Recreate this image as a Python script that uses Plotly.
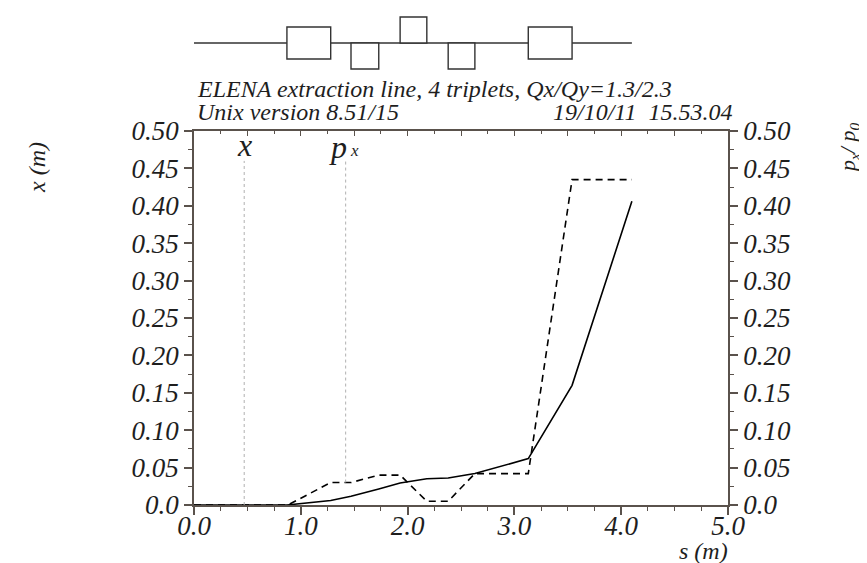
import plotly.graph_objects as go

# ---------------- data ----------------
s_x = [0.0, 0.87, 1.28, 1.47, 1.73, 1.93, 2.18, 2.38, 2.63, 3.13, 3.54, 4.10]
x_vals = [0.0, 0.0, 0.006, 0.0117, 0.0215, 0.0295, 0.035, 0.036, 0.042, 0.062, 0.160, 0.406]

s_px = [0.0, 0.88, 1.28, 1.47, 1.73, 1.93, 2.18, 2.38, 2.63, 3.13, 3.54, 4.10]
px_vals = [0.0, 0.0, 0.030, 0.030, 0.040, 0.040, 0.005, 0.005, 0.042, 0.042, 0.435, 0.435]

y_tickvals = [0.0, 0.05, 0.10, 0.15, 0.20, 0.25, 0.30, 0.35, 0.40, 0.45, 0.50]
y_ticktext = ["0.0", "0.05", "0.10", "0.15", "0.20", "0.25", "0.30", "0.35", "0.40", "0.45", "0.50"]
x_tickvals = [0, 1, 2, 3, 4, 5]
x_ticktext = ["0.0", "1.0", "2.0", "3.0", "4.0", "5.0"]

# beamline elements (s start, s end, kind)
elem_start = [0.87, 1.47, 1.93, 2.38, 3.13]
elem_end = [1.28, 1.73, 2.18, 2.63, 3.54]
elem_kind = ["both", "down", "up", "down", "both"]
beamline_end = 4.10

# marker lines
marker_s = [0.47, 1.42]
marker_bottom = [0.0, 0.030]
marker_top = 0.46

title1 = "ELENA extraction line, 4 triplets, Qx/Qy=1.3/2.3"
title2_left = "Unix version 8.51/15"
title2_right = "19/10/11\u00a0\u00a015.53.04"

# ---------------- layout helpers ----------------
W, H = 867, 563
L, R, T, B = 186, 720, 123, 497


def xp(px):
    return (px - L) / (R - L)


def yp(py):
    return (B - py) / (B - T)


FONT = "Liberation Serif"
AX = "#5a524c"
TXT = "#1e1e1e"
tickfont = dict(family=FONT, size=27, color=TXT, style="italic")

fig = go.Figure()

for s, yb in zip(marker_s, marker_bottom):
    fig.add_trace(go.Scatter(x=[s, s], y=[yb, marker_top], mode="lines",
                             line=dict(color="#b0b0b0", width=1, dash="dot"),
                             xaxis="x2", yaxis="y", hoverinfo="skip", showlegend=False))

fig.add_trace(go.Scatter(x=s_x, y=x_vals, mode="lines",
                         line=dict(color="black", width=1.6), showlegend=False))
fig.add_trace(go.Scatter(x=s_px, y=px_vals, mode="lines", yaxis="y2",
                         line=dict(color="black", width=1.6, dash="7px,5px"), showlegend=False))

common_y = dict(range=[0, 0.5], tickmode="array", tickvals=y_tickvals, ticktext=y_ticktext,
                ticks="outside", ticklen=8, tickwidth=1.5, tickcolor=AX,
                showline=True, linecolor=AX, linewidth=1.5, showgrid=False, zeroline=False,
                tickfont=tickfont, ticklabelstandoff=0,
                minor=dict(ticks="outside", ticklen=4, tickwidth=1.2, tickcolor=AX,
                           tickmode="linear", tick0=0, dtick=0.025, showgrid=False))

fig.update_layout(
    width=W, height=H,
    margin=dict(l=L, r=W - R, t=T, b=H - B),
    paper_bgcolor="white", plot_bgcolor="white",
    xaxis=dict(range=[0, 5], tickmode="array", tickvals=x_tickvals, ticktext=x_ticktext,
               ticks="outside", ticklen=8, tickwidth=1.5, tickcolor=AX,
               showline=True, linecolor=AX, linewidth=1.5, showgrid=False, zeroline=False,
               tickfont=tickfont, ticklabelstandoff=-12,
               minor=dict(ticks="outside", ticklen=4, tickwidth=1.2, tickcolor=AX,
                          tickmode="linear", tick0=0, dtick=0.25, showgrid=False)),
    xaxis2=dict(range=[0, 5], overlaying="x", side="top", tickmode="linear", tick0=0, dtick=0.5,
                ticks="inside", ticklen=5, tickwidth=1.2, tickcolor=AX, showticklabels=False,
                showline=True, linecolor=AX, linewidth=1.5, showgrid=False, zeroline=False,
                minor=dict(ticks="inside", ticklen=3, tickcolor=AX, tickmode="linear",
                           tick0=0, dtick=0.25, showgrid=False)),
    yaxis=dict(side="left", **common_y),
    yaxis2=dict(side="right", overlaying="y", **common_y),
)

ann = []
tfont = dict(family=FONT, size=24, color=TXT, style="italic")
ann.append(dict(text=title1, x=xp(187), y=yp(81), xref="paper", yref="paper",
                xanchor="left", yanchor="middle", showarrow=False, font=tfont))
ann.append(dict(text=title2_left, x=xp(187), y=yp(104), xref="paper", yref="paper",
                xanchor="left", yanchor="middle", showarrow=False, font=tfont))
ann.append(dict(text=title2_right, x=xp(727), y=yp(104), xref="paper", yref="paper",
                xanchor="right", yanchor="middle", showarrow=False, font=tfont))
ann.append(dict(text="x (m)", x=xp(29), y=yp(160), xref="paper", yref="paper",
                textangle=-90, xanchor="center", yanchor="middle", showarrow=False,
                font=dict(family=FONT, size=24, color=TXT, style="italic")))
ann.append(dict(text="p<sub>x</sub>/ p<sub>0</sub>", x=xp(841), y=yp(140), xref="paper", yref="paper",
                textangle=-90, xanchor="center", yanchor="middle", showarrow=False,
                font=dict(family=FONT, size=22, color=TXT, style="italic")))
ann.append(dict(text="s (m)", x=xp(695), y=yp(543), xref="paper", yref="paper",
                xanchor="center", yanchor="middle", showarrow=False,
                font=dict(family=FONT, size=24, color=TXT, style="italic")))
# marker labels
mfont = dict(family=FONT, size=32, color=TXT, style="italic")
ann.append(dict(text="x", x=marker_s[0], y=0.481, xref="x", yref="y", xanchor="center",
                yanchor="middle", showarrow=False, font=mfont))
ann.append(dict(text="p", x=marker_s[1], y=0.478, xref="x", yref="y", xanchor="right", xshift=3,
                yanchor="middle", showarrow=False, font=mfont))
ann.append(dict(text="x", x=marker_s[1], y=0.474, xref="x", yref="y", xanchor="left", xshift=2,
                yanchor="middle", showarrow=False,
                font=dict(family=FONT, size=17, color=TXT, style="italic")))
fig.update_layout(annotations=ann)

# beamline element diagram
shapes = []
y_line = yp(35)
shapes.append(dict(type="line", xref="x", yref="paper", x0=0, x1=beamline_end, y0=y_line, y1=y_line,
                   line=dict(color="#333", width=1.4), layer="above"))
for s0, s1, k in zip(elem_start, elem_end, elem_kind):
    if k == "both":
        y0, y1 = yp(51), yp(19)
    elif k == "up":
        y0, y1 = y_line, yp(9)
    else:
        y0, y1 = yp(61), y_line
    shapes.append(dict(type="rect", xref="x", yref="paper", x0=s0, x1=s1, y0=y0, y1=y1,
                       line=dict(color="#333", width=1.4), fillcolor="white", layer="above"))
fig.update_layout(shapes=shapes)

fig.write_html("out.html")
